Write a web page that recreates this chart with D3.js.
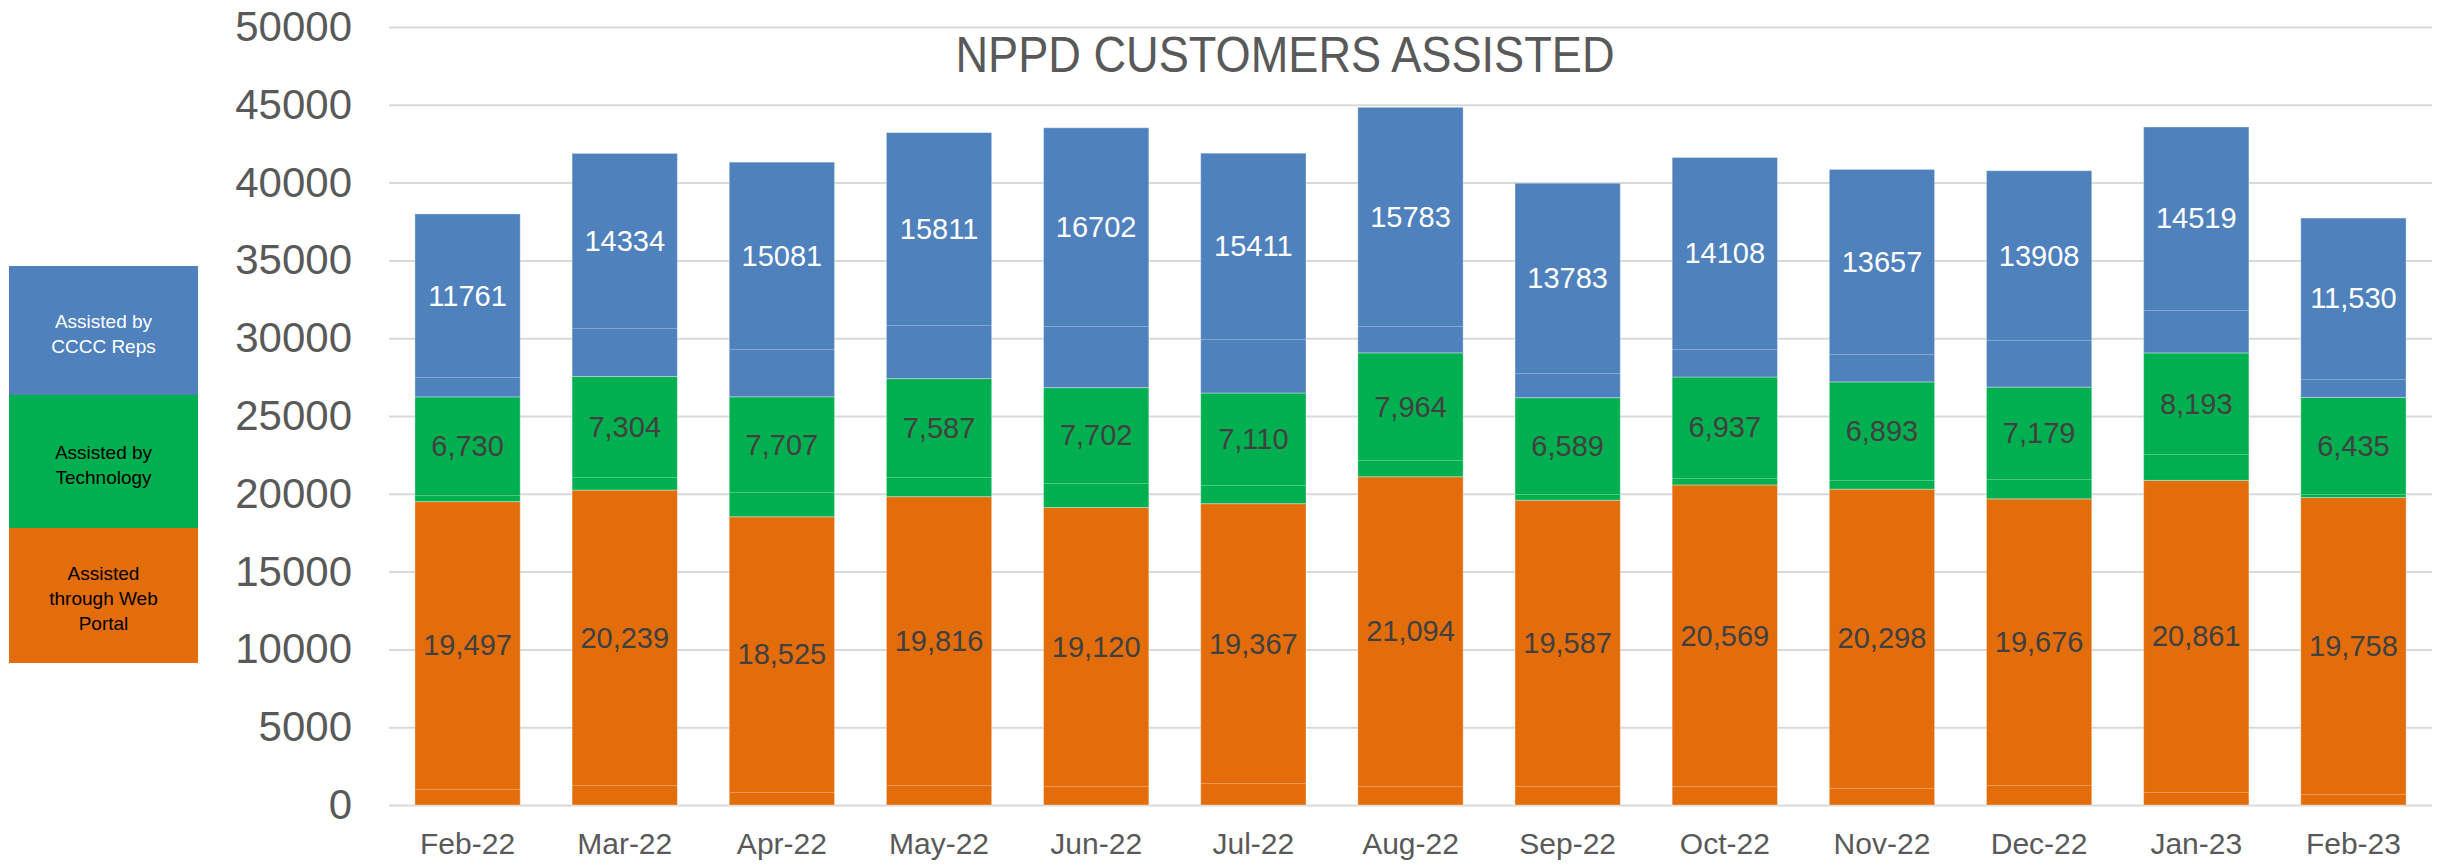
<!DOCTYPE html>
<html>
<head>
<meta charset="utf-8">
<script src="https://cdn.jsdelivr.net/npm/d3@7"></script>
<style>
  body { margin: 0; background: #fff; }
  svg { display: block; font-family: "Liberation Sans", Arial, sans-serif; }
</style>
</head>
<body>
<svg id="chart" width="2451" height="865"></svg>
<script>
const months = ["Feb-22", "Mar-22", "Apr-22", "May-22", "Jun-22", "Jul-22", "Aug-22",
                "Sep-22", "Oct-22", "Nov-22", "Dec-22", "Jan-23", "Feb-23"];

// main series (bottom to top)
const webPortal  = [19497, 20239, 18525, 19816, 19120, 19367, 21094, 19587, 20569, 20298, 19676, 20861, 19758];
const technology = [6730, 7304, 7707, 7587, 7702, 7110, 7964, 6589, 6937, 6893, 7179, 8193, 6435];
const cccReps    = [11761, 14334, 15081, 15811, 16702, 15411, 15783, 13783, 14108, 13657, 13908, 14519, 11530];

// small sub-parts sitting at the bottom of each segment (the faint lines)
const webBase   = [1009, 1266, 836, 1305, 1195, 1388, 1253, 1253, 1195, 1118, 1285, 861, 720];
const techBase  = [426, 860, 1565, 1239, 1555, 1225, 1066, 382, 454, 564, 1256, 1671, 200];
const repsBase  = [1260, 3093, 3055, 3415, 3943, 3498, 1707, 1557, 1795, 1763, 3010, 2759, 1197];

// labels as printed on the chart
const repsLabels = ["11761", "14334", "15081", "15811", "16702", "15411", "15783",
                    "13783", "14108", "13657", "13908", "14519", "11,530"];

const seriesColors = ["#E36C0B", "#00B050", "#4F81BD"];
const yTicks = d3.range(0, 50001, 5000);

const svg = d3.select("#chart");
const m = { left: 389, right: 2432, top: 27, bottom: 805 };

const x = d3.scaleBand()
    .domain(months)
    .range([m.left, m.right])
    .paddingInner(0.33)
    .paddingOuter(0.165);

const y = d3.scaleLinear()
    .domain([0, 50000])
    .range([m.bottom, m.top]);

// gridlines + y labels
const yAxis = svg.append("g")
    .attr("transform", `translate(${m.left},0)`)
    .call(d3.axisLeft(y).tickValues(yTicks).tickSize(-(m.right - m.left)).tickPadding(37).tickFormat(d3.format("d")));
yAxis.select(".domain").remove();
yAxis.selectAll(".tick line").attr("stroke", "#d9d9d9").attr("stroke-width", 2);
yAxis.selectAll(".tick text")
    .attr("fill", "#595959")
    .style("font-size", "42px");

// stacked data
const rows = months.map((mo, i) => ({
    month: mo, web: webPortal[i], tech: technology[i], reps: cccReps[i],
    webBase: webBase[i], techBase: techBase[i], repsBase: repsBase[i], repsLabel: repsLabels[i]
}));
const keys = ["web", "tech", "reps"];
const stack = d3.stack().keys(keys)(rows);

const fmt = d3.format(",");

stack.forEach((layer, li) => {
    const key = keys[li];
    const g = svg.append("g");

    g.selectAll("rect")
        .data(layer)
        .enter()
        .append("rect")
        .attr("x", d => x(d.data.month))
        .attr("width", x.bandwidth())
        .attr("y", d => y(d[1]))
        .attr("height", d => y(d[0]) - y(d[1]))
        .attr("fill", seriesColors[li])
        .attr("stroke", "rgba(255,255,255,0.35)")
        .attr("stroke-width", 1);

    // faint line where the small bottom part ends
    g.selectAll("line")
        .data(layer)
        .enter()
        .append("line")
        .attr("x1", d => x(d.data.month))
        .attr("x2", d => x(d.data.month) + x.bandwidth())
        .attr("y1", d => Math.round(y(d[0] + d.data[key + "Base"])) + 0.5)
        .attr("y2", d => Math.round(y(d[0] + d.data[key + "Base"])) + 0.5)
        .attr("stroke", "rgba(255,255,255,0.3)")
        .attr("stroke-width", 1);

    g.selectAll("text")
        .data(layer)
        .enter()
        .append("text")
        .attr("x", d => x(d.data.month) + x.bandwidth() / 2)
        .attr("y", d => y((d[0] + d.data[key + "Base"] + d[1]) / 2))
        .attr("text-anchor", "middle")
        .attr("dominant-baseline", "central")
        .attr("fill", key === "reps" ? "#ffffff" : "#404040")
        .style("font-size", "29px")
        .text(d => key === "reps" ? d.data.repsLabel : fmt(d.data[key]));
});

// x axis labels
const xAxis = svg.append("g")
    .attr("transform", `translate(0,${m.bottom})`)
    .call(d3.axisBottom(x).tickSize(0).tickPadding(28));
xAxis.select(".domain").remove();
xAxis.selectAll(".tick text")
    .attr("fill", "#595959")
    .style("font-size", "30px");

// title
svg.append("text")
    .attr("x", 1285)
    .attr("y", 72)
    .attr("text-anchor", "middle")
    .attr("fill", "#595959")
    .attr("textLength", 659)
    .attr("lengthAdjust", "spacingAndGlyphs")
    .style("font-size", "50px")
    .text("NPPD CUSTOMERS ASSISTED");

// legend boxes on the left, top to bottom
const legendItems = [
    { lines: ["Assisted by", "CCCC Reps"], color: seriesColors[2], text: "#ffffff", y0: 266, y1: 395 },
    { lines: ["Assisted by", "Technology"], color: seriesColors[1], text: "#000000", y0: 395, y1: 528 },
    { lines: ["Assisted", "through Web", "Portal"], color: seriesColors[0], text: "#000000", y0: 528, y1: 663 }
];

const legend = svg.append("g");
legendItems.forEach(item => {
    legend.append("rect")
        .attr("x", 9)
        .attr("y", item.y0)
        .attr("width", 189)
        .attr("height", item.y1 - item.y0)
        .attr("fill", item.color);
    const cy = (item.y0 + item.y1) / 2 + 3;
    const n = item.lines.length;
    item.lines.forEach((ln, i) => {
        legend.append("text")
            .attr("x", 103.5)
            .attr("y", cy + (i - (n - 1) / 2) * 25)
            .attr("text-anchor", "middle")
            .attr("dominant-baseline", "central")
            .attr("fill", item.text)
            .style("font-size", "19px")
            .text(ln);
    });
});
</script>
</body>
</html>
